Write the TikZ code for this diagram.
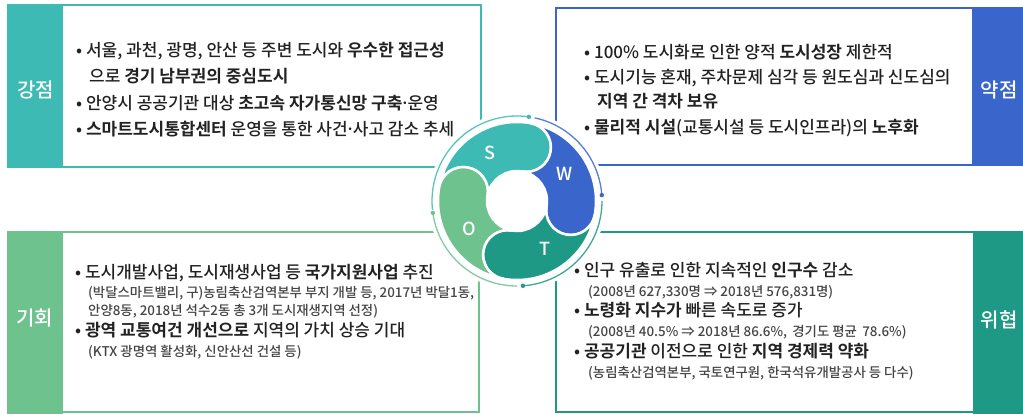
\documentclass[tikz,border=0pt]{standalone}
\usepackage{fontspec}
\setmainfont{Noto Sans CJK KR Medium}[BoldFont=Noto Sans CJK KR Bold]
\definecolor{cS}{HTML}{3DBAB3}
\definecolor{cW}{HTML}{3A66CC}
\definecolor{cT}{HTML}{1E9985}
\definecolor{cO}{HTML}{6DC28E}
\definecolor{txt}{HTML}{222222}
\definecolor{sub}{HTML}{444444}
\newcommand\mdot{\makebox[0.3em]{·}}
\begin{document}
\begin{tikzpicture}[x=1pt,y=-1pt,
 mainline/.style={anchor=base west, inner sep=0, font=\fontsize{17}{19}\selectfont, text=txt},
 subline/.style={anchor=base west, inner sep=0, font=\fontsize{13.4}{15}\selectfont, text=sub},
 lbl/.style={font=\fontsize{20}{22}\selectfont, text=white},
 ltr/.style={font=\fontsize{18}{20}\selectfont, text=white},
 boxline/.style={line width=2pt},
]
\useasboundingbox (0,0) rectangle (1023,413);
% boxes
\draw[boxline, cS] (8,5) rectangle (481,167);
\fill[cS] (7,4) rectangle (63,168);
\draw[boxline, cW] (556,8) rectangle (1030,165);
\fill[cW] (972,7) rectangle (1030,166);
\draw[boxline, cO] (8,232) rectangle (479,412);
\fill[cO] (7,231) rectangle (63,420);
\draw[boxline, cT] (556,232) rectangle (1030,412);
\fill[cT] (973,231) rectangle (1030,420);
% labels
\node[lbl] (lS) at (36,90) {강점};
\node[lbl] (lW) at (999,90) {약점};
\node[lbl] (lO) at (35,318) {기회};
\node[lbl] (lT) at (999,320) {위협};
% top-left text
\node[mainline] (s1) at (76,56) {• 서울, 과천, 광명, 안산 등 주변 도시와 \textbf{우수한 접근성}};
\node[mainline] (s2) at (89,82) {으로 \textbf{경기 남부권의 중심도시}};
\node[mainline] (s3) at (76,109) {• 안양시 공공기관 대상 \textbf{초고속 자가통신망 구축}\mdot 운영};
\node[mainline] (s4) at (76,135) {• \textbf{스마트도시통합센터} 운영을 통한 사건\mdot 사고 감소 추세};
% top-right text
\node[mainline] (w1) at (584,58) {• 100\% 도시화로 인한 양적 \textbf{도시성장} 제한적};
\node[mainline] (w2) at (584,83) {• 도시기능 혼재, 주차문제 심각 등 원도심과 신도심의};
\node[mainline] (w3) at (597,107) {\textbf{지역 간 격차 보유}};
\node[mainline] (w4) at (584,133) {• \textbf{물리적 시설}(교통시설 등 도시인프라)의 \textbf{노후화}};
% bottom-left text
\node[mainline] (o1) at (75,278) {• 도시개발사업, 도시재생사업 등 \textbf{국가지원사업} 추진};
\node[subline] (o2) at (88,297) {(박달스마트밸리, 구)농림축산검역본부 부지 개발 등, 2017년 박달1동,};
\node[subline] (o3) at (88,315) {안양8동, 2018년 석수2동 총 3개 도시재생지역 선정)};
\node[mainline] (o4) at (75,336) {• \textbf{광역 교통여건 개선으로} 지역의 가치 상승 기대};
\node[subline] (o5) at (88,356) {(KTX 광명역 활성화, 신안산선 건설 등)};
% bottom-right text
\node[mainline] (t1) at (574,276) {• 인구 유출로 인한 지속적인 \textbf{인구수} 감소};
\node[subline] (t2) at (588,296) {(2008년 627,330명 ⇒ 2018년 576,831명)};
\node[mainline] (t3) at (574,316) {• \textbf{노령화 지수가} 빠른 속도로 증가};
\node[subline] (t4) at (588,336) {(2008년 40.5\% ⇒ 2018년 86.6\%,\, 경기도 평균\, 78.6\%)};
\node[mainline] (t5) at (574,357) {• \textbf{공공기관} 이전으로 인한 \textbf{지역 경제력 약화}};
\node[subline] (t6) at (588,377) {(농림축산검역본부, 국토연구원, 한국석유개발공사 등 다수)};
% SWOT circle
\coordinate (C) at (517,201);
\begin{scope}[shift={(C)}, yscale=-1]
  \fill[white] (0,0) circle[radius=89];
  \foreach \a/\c/\l in {170/cS/S, 80/cW/W, -10/cT/T, -100/cO/O}{
    \pgfmathsetmacro{\b}{\a-90}
    \filldraw[fill=\c, draw=white, line width=2.5pt]
      (\a:79) arc[start angle=\a, end angle=\b, radius=79]
      arc[start angle=\b, end angle=\b-180, radius=24.5]
      arc[start angle=\b, end angle=\a, radius=30]
      arc[start angle=\a+180, end angle=\a+360, radius=24.5] -- cycle;
    \node[ltr] (L\l) at ({\a-50}:55) {\l};
  }
  \foreach \s/\e/\c in {186/82/cS, 78/4/cW, 0/-86/cT, -90/-172/cO}{
    \draw[\c!85, line width=1.3pt] (\s:85) arc[start angle=\s, end angle=\e, radius=85];
    \fill[\c] (\e:85) circle[radius=2.2];
  }
\end{scope}
\end{tikzpicture}
\end{document}
